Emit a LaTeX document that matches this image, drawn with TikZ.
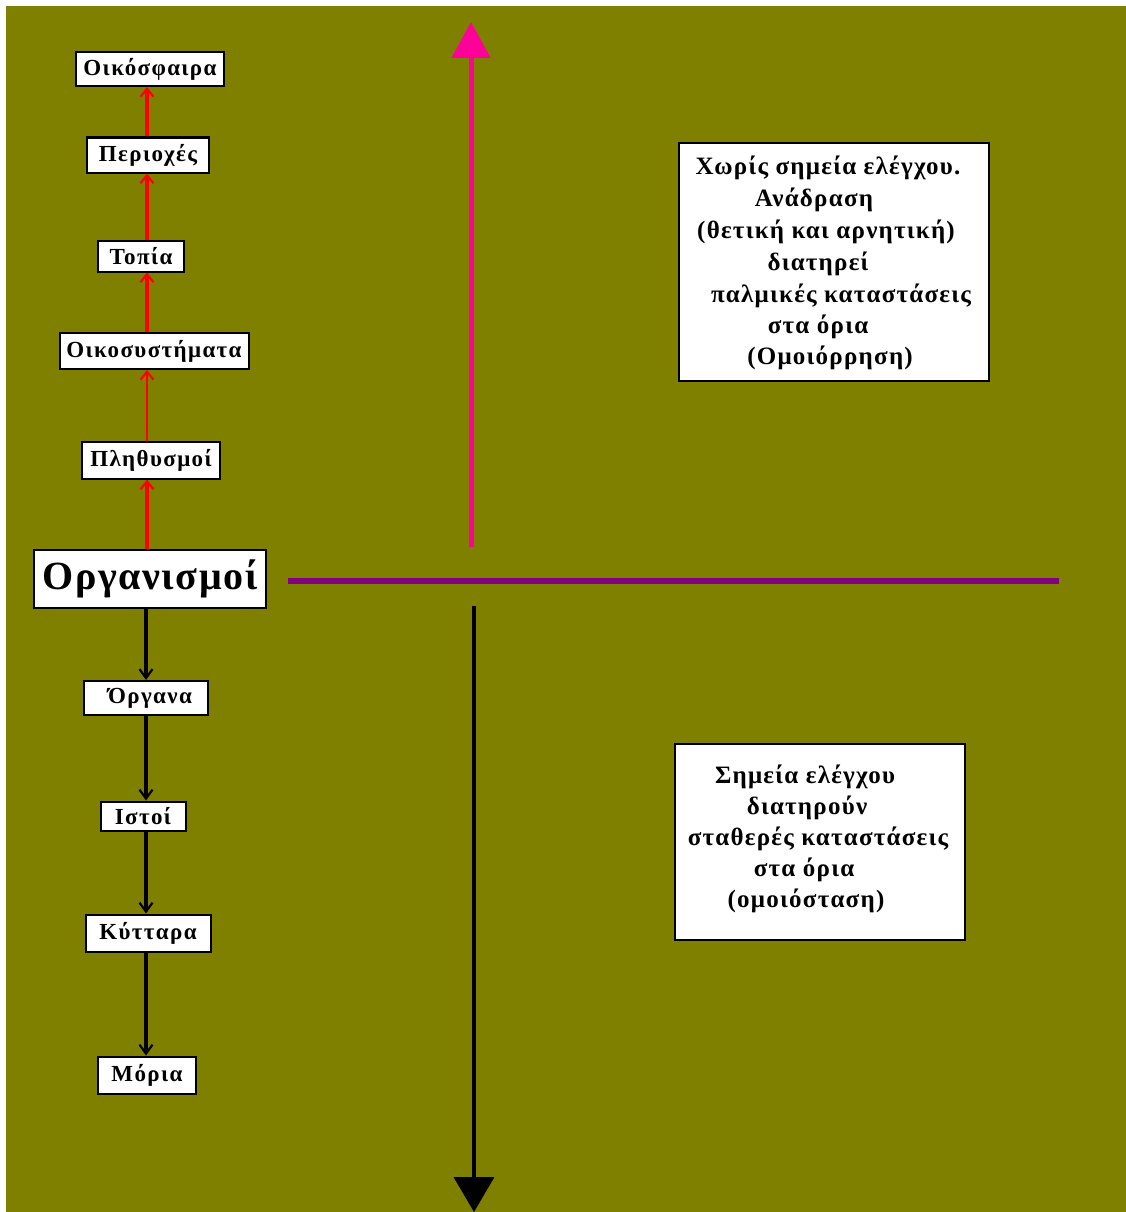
\documentclass[tikz,border=0pt]{standalone}
\usepackage{fontspec}
\setmainfont{Liberation Serif}
\usetikzlibrary{arrows.meta}
\definecolor{olivebg}{RGB}{128,128,0}
\definecolor{pinkup}{RGB}{255,0,153}
\definecolor{purpleaxis}{RGB}{128,0,128}
\tikzset{
  level/.style={draw=black, fill=white, line width=2pt, inner sep=0pt,
    font=\bfseries\fontsize{23}{27}\selectfont\addfontfeatures{LetterSpace=6}},
  bigbox/.style={draw=black, fill=white, line width=2pt, inner sep=0pt},
  boxline/.style={anchor=base, inner sep=0pt,
    font=\bfseries\fontsize{25}{29}\selectfont\addfontfeatures{LetterSpace=5}},
  uparrow/.style={draw=red, line width=3.2pt, -{Straight Barb[length=8pt,width=13pt,line width=2.2pt]}},
  downarrow/.style={draw=black, line width=3.2pt, -{Straight Barb[length=9pt,width=13pt,line width=2.2pt]}},
}
\begin{document}
\begin{tikzpicture}[x=1pt,y=-1pt]
\useasboundingbox (0,0) rectangle (1126,1212);
\fill[olivebg] (6,6) rectangle (1126,1212);

% hierarchy levels
\node[level, minimum width=148pt, minimum height=34pt] (oikosf) at (150,69) {Οικόσφαιρα};
\node[level, minimum width=122pt, minimum height=35pt] (perioxes) at (148,155) {Περιοχές};
\node[level, minimum width=86pt, minimum height=31pt] (topia) at (141,256) {Τοπία};
\node[level, minimum width=189pt, minimum height=36pt] (oikosys) at (154,351) {Οικοσυστήματα};
\node[level, minimum width=138pt, minimum height=37pt] (plith) at (151,460) {Πληθυσμοί};
\node[level, minimum width=232pt, minimum height=58pt,
  font=\bfseries\fontsize{40}{46}\selectfont\addfontfeatures{LetterSpace=4}] (organ) at (150,579) {Οργανισμοί};
\node[level, minimum width=124pt, minimum height=34pt] (organa) at (146,698) {\hspace{8pt}Όργανα};
\node[level, minimum width=85pt, minimum height=29pt] (istoi) at (143,816) {Ιστοί};
\node[level, minimum width=125pt, minimum height=37pt] (kyttara) at (148,933) {Κύτταρα};
\node[level, minimum width=98pt, minimum height=37pt] (moria) at (147,1075) {Μόρια};

\coordinate (up) at (147,0);
\coordinate (down) at (146,0);

% upward chain
\draw[uparrow] (organ.north -| up) -- (plith.south -| up);
\draw[uparrow, line width=2pt] (plith.north -| up) -- (oikosys.south -| up);
\draw[uparrow] (oikosys.north -| up) -- (topia.south -| up);
\draw[uparrow] (topia.north -| up) -- (perioxes.south -| up);
\draw[uparrow] (perioxes.north -| up) -- (oikosf.south -| up);

% downward chain
\draw[downarrow] (organ.south -| down) -- (organa.north -| down);
\draw[downarrow] (organa.south -| down) -- (istoi.north -| down);
\draw[downarrow] (istoi.south -| down) -- (kyttara.north -| down);
\draw[downarrow] (kyttara.south -| down) -- (moria.north -| down);

% axes
\coordinate (axisL) at (288,581);
\coordinate (axisR) at (1059,581);
\draw[purpleaxis, line width=6pt] (axisL) -- (axisR);

\coordinate (upS) at (471,547);
\coordinate (upE) at (471,22);
\draw[pinkup, line width=5pt, -{Triangle[length=36pt,width=38pt]}] (upS) -- (upE);

\coordinate (dnS) at (474,606);
\coordinate (dnE) at (474,1212);
\draw[black, line width=4pt, -{Triangle[length=35pt,width=40pt]}] (dnS) -- (dnE);

% upper description box
\node[bigbox, minimum width=310pt, minimum height=238pt] (upper) at (834,262) {};
\node[boxline] (u1) at (828,174) {Χωρίς σημεία ελέγχου.};
\node[boxline] (u2) at (814,206) {Ανάδραση};
\node[boxline] (u3) at (826,238) {(θετική και αρνητική)};
\node[boxline] (u4) at (818,270) {διατηρεί};
\node[boxline] (u5) at (841,302) {παλμικές καταστάσεις};
\node[boxline] (u6) at (818,333) {στα όρια};
\node[boxline] (u7) at (830,364) {(Ομοιόρρηση)};

% lower description box
\node[bigbox, minimum width=290pt, minimum height=196pt] (lower) at (820,842) {};
\node[boxline] (l1) at (805,783) {Σημεία ελέγχου};
\node[boxline] (l2) at (807,814) {διατηρούν};
\node[boxline] (l3) at (818,845) {σταθερές καταστάσεις};
\node[boxline] (l4) at (804,876) {στα όρια};
\node[boxline] (l5) at (806,907) {(ομοιόσταση)};
\end{tikzpicture}
\end{document}
